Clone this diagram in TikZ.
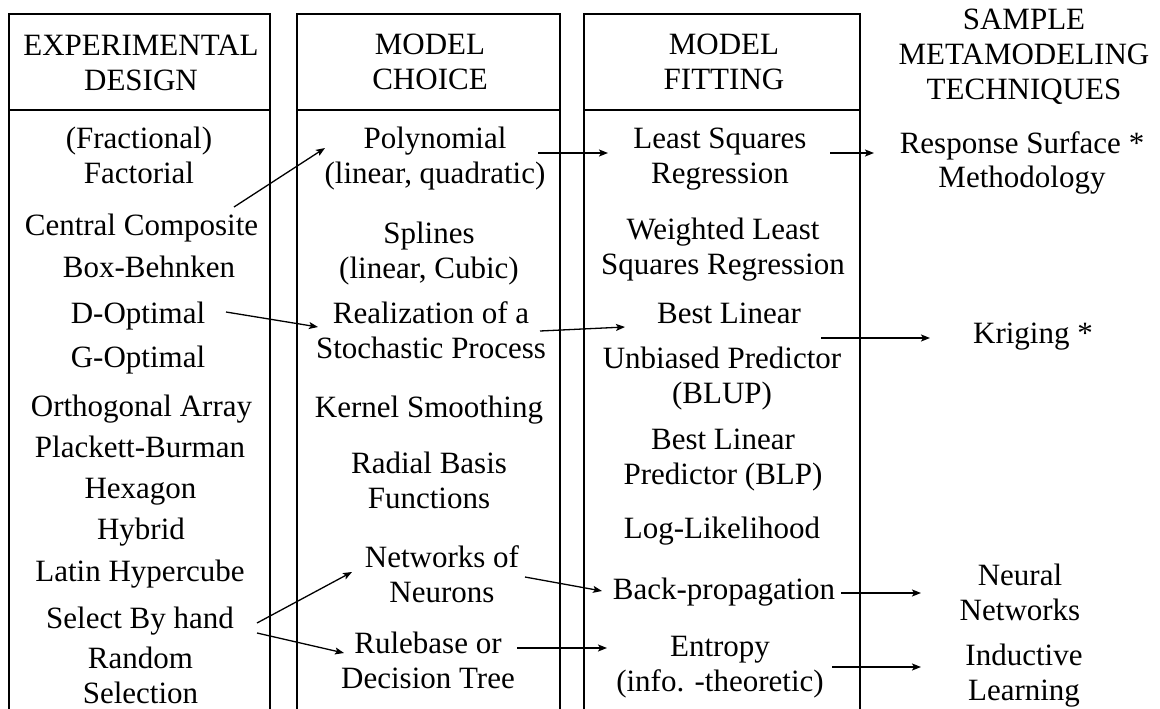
\documentclass[tikz,border=0pt]{standalone}
\usepackage{fontspec}
\setmainfont{Liberation Serif}
\usetikzlibrary{arrows.meta}
% centred block of lines whose baseline is that of the first line
\newcommand{\cellstack}[1]{\begin{tabular}[t]{@{}c@{}}#1\end{tabular}}
\begin{document}
\begin{tikzpicture}[x=1pt,y=-1pt,
  lbl/.style={anchor=base,inner sep=0pt,font=\fontsize{31}{35}\selectfont},
  frame/.style={draw=black,line width=1.6pt},
  arr/.style={line width=1.3pt,-{Stealth[length=9pt,width=7pt,inset=2pt]}},
]
\useasboundingbox (0,0) rectangle (1160,709);
\fill[white] (0,0) rectangle (1160,709);

% column frames, open at the lower edge
\foreach \l/\r in {9/270, 297/560, 584/860}{
  \draw[frame] (\l,725) -- (\l,14) -- (\r,14) -- (\r,725);
  \draw[frame] (\l,110) -- (\r,110);
}

% headings
\node[lbl] (h1) at (141,56)   {\cellstack{EXPERIMENTAL\\DESIGN}};
\node[lbl] (h2) at (430,55)   {\cellstack{MODEL\\CHOICE}};
\node[lbl] (h3) at (724,55)   {\cellstack{MODEL\\FITTING}};
\node[lbl] (h4) at (1024,30)  {\cellstack{SAMPLE\\METAMODELING\\TECHNIQUES}};

% experimental designs
\node[lbl] (ff)   at (139,148)   {\cellstack{(Fractional)\\Factorial}};
\node[lbl] (cc)   at (141.5,235) {Central Composite};
\node[lbl] (bb)   at (149,277)   {Box-Behnken};
\node[lbl] (dopt) at (138,323)   {D-Optimal};
\node[lbl] (gopt) at (138,367)   {G-Optimal};
\node[lbl] (oa)   at (141.5,416) {Orthogonal Array};
\node[lbl] (pb)   at (140,457)   {Plackett-Burman};
\node[lbl] (hex)  at (140.5,498) {Hexagon};
\node[lbl] (hyb)  at (141,539)   {Hybrid};
\node[lbl] (lh)   at (140,581)   {Latin Hypercube};
\node[lbl] (sbh)  at (140,628)   {Select By hand};
\node[lbl] (rs)   at (140.5,668) {\cellstack{Random\\Selection}};

% model choices
\node[lbl] (poly) at (435,148) {\cellstack{Polynomial\\(linear, quadratic)}};
\node[lbl] (spl)  at (429,243) {\cellstack{Splines\\(linear, Cubic)}};
\node[lbl] (real) at (431,323) {\cellstack{Realization of a\\Stochastic Process}};
\node[lbl] (ks)   at (429,417) {Kernel Smoothing};
\node[lbl] (rbf)  at (429,473) {\cellstack{Radial Basis\\Functions}};
\node[lbl] (nn)   at (442,567) {\cellstack{Networks of\\Neurons}};
\node[lbl] (rb)   at (428,653) {\cellstack{Rulebase or\\Decision Tree}};

% model fitting
\node[lbl] (lsq)  at (720,148) {\cellstack{Least Squares\\Regression}};
\node[lbl] (wlsq) at (723,239) {\cellstack{Weighted Least\\Squares Regression}};
\node[lbl] (blup) at (722,323) {\cellstack{\hspace*{14pt}Best Linear\\[10pt]Unbiased Predictor\\(BLUP)}};
\node[lbl] (blp)  at (723,449) {\cellstack{Best Linear\\Predictor (BLP)}};
\node[lbl] (ll)   at (722,538) {Log-Likelihood};
\node[lbl] (bp)   at (724,599) {Back-propagation};
\node[lbl] (ent)  at (720,656) {\cellstack{Entropy\\(info. -theoretic)}};

% resulting techniques
\node[lbl] (rsm)  at (1022,153) {\cellstack{Response Surface *\\Methodology}};
\node[lbl] (krig) at (1033,343) {Kriging *};
\node[lbl] (neu)  at (1020,585) {\cellstack{Neural\\Networks}};
\node[lbl] (ind)  at (1024,665) {\cellstack{Inductive\\Learning}};

% connectors
\draw[arr] ([shift={(92.5,-28)}]cc.base)  -- ([shift={(-110,0)}]poly.base);
\draw[arr] ([shift={(103,5)}]poly.base)   -- ([shift={(-112,5)}]lsq.base);
\draw[arr] ([shift={(110,5)}]lsq.base)    -- ([shift={(-148,0)}]rsm.base);
\draw[arr] ([shift={(88,-11)}]dopt.base)  -- ([shift={(-113,4)}]real.base);
\draw[arr] ([shift={(109,8)}]real.base)   -- ([shift={(-97,4)}]blup.base);
\draw[arr] ([shift={(99,15)}]blup.base)   -- ([shift={(-103,-5)}]krig.base);
\draw[arr] ([shift={(117,-5)}]sbh.base)   -- ([shift={(-90,5)}]nn.base);
\draw[arr] ([shift={(117,5)}]sbh.base)    -- ([shift={(-84,0)}]rb.base);
\draw[arr] ([shift={(83,10)}]nn.base)     -- ([shift={(-122,-8)}]bp.base);
\draw[arr] ([shift={(89,-5)}]rb.base)     -- ([shift={(-113,-8)}]ent.base);
\draw[arr] ([shift={(117,-6)}]bp.base)    -- ([shift={(-99,8)}]neu.base);
\draw[arr] ([shift={(112,11)}]ent.base)   -- ([shift={(-103,2)}]ind.base);
\end{tikzpicture}
\end{document}
